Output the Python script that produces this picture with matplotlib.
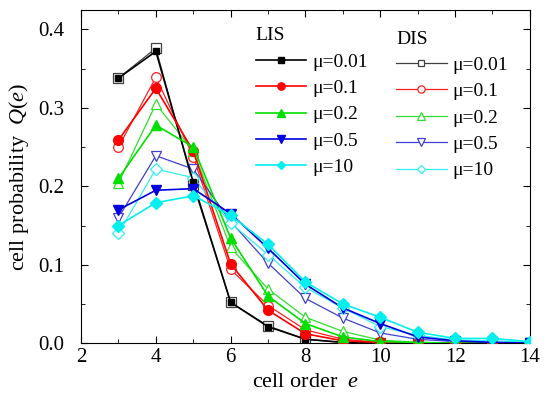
import matplotlib
matplotlib.use("Agg")
import matplotlib.pyplot as plt
from matplotlib.ticker import MultipleLocator

plt.rcParams['font.family'] = ['Liberation Serif', 'DejaVu Serif']
plt.rcParams['mathtext.fontset'] = 'custom'
plt.rcParams['mathtext.rm'] = 'Liberation Serif'
plt.rcParams['mathtext.it'] = 'Liberation Serif:italic'

order = [3, 4, 5, 6, 7, 8, 9, 10, 11, 12, 13, 14]
mu_labels = ["\u03bc=0.01", "\u03bc=0.1", "\u03bc=0.2", "\u03bc=0.5", "\u03bc=10"]

# LIS (filled markers)
lis_001 = [0.338, 0.372, 0.205, 0.052, 0.021, 0.005, 0.001, 0.0, 0.0, 0.0, 0.0, 0.0]
lis_01 = [0.259, 0.325, 0.245, 0.101, 0.042, 0.012, 0.003, 0.001, 0.0, 0.0, 0.0, 0.0]
lis_02 = [0.210, 0.278, 0.250, 0.134, 0.060, 0.025, 0.008, 0.002, 0.001, 0.0, 0.0, 0.0]
lis_05 = [0.170, 0.195, 0.197, 0.165, 0.121, 0.075, 0.045, 0.025, 0.008, 0.003, 0.001, 0.0]
lis_10 = [0.150, 0.179, 0.188, 0.163, 0.126, 0.078, 0.050, 0.033, 0.014, 0.006, 0.006, 0.002]

# DIS (open markers)
dis_001 = [0.338, 0.376, 0.202, 0.052, 0.022, 0.005, 0.001, 0.0, 0.0, 0.0, 0.0, 0.0]
dis_01 = [0.250, 0.339, 0.238, 0.094, 0.048, 0.017, 0.005, 0.001, 0.0, 0.0, 0.0, 0.0]
dis_02 = [0.204, 0.305, 0.245, 0.122, 0.069, 0.033, 0.015, 0.004, 0.001, 0.0, 0.0, 0.0]
dis_05 = [0.160, 0.239, 0.222, 0.155, 0.102, 0.057, 0.032, 0.013, 0.005, 0.002, 0.001, 0.0]
dis_10 = [0.140, 0.222, 0.211, 0.153, 0.113, 0.071, 0.045, 0.021, 0.010, 0.004, 0.003, 0.001]

lis = [lis_001, lis_01, lis_02, lis_05, lis_10]
dis = [dis_001, dis_01, dis_02, dis_05, dis_10]

lis_colors = ['black', 'red', '#00e000', '#0000e0', '#00f0f0']
dis_colors = ['#404040', '#ff2020', '#30e030', '#4040d0', '#30f0f0']
marks = ['s', 'o', '^', 'v', 'D']
lis_msize = [5, 7, 7.5, 7.5, 6]
dis_msize = [6.5, 7, 7.5, 7.5, 6]

fig = plt.figure(figsize=(5.44, 3.94), dpi=100)
ax = fig.add_axes([0.149, 0.129, 0.825, 0.846])

dis_handles = []
for i in range(len(dis)):
    ln, = ax.plot(order, dis[i], color=dis_colors[i], lw=0.9, marker=marks[i],
                  markersize=dis_msize[i], markerfacecolor='white',
                  markeredgecolor=dis_colors[i], markeredgewidth=0.9, zorder=2)
    dis_handles.append(ln)

lis_handles = []
for i in range(len(lis)):
    ln, = ax.plot(order, lis[i], color=lis_colors[i], lw=1.2, marker=marks[i],
                  markersize=lis_msize[i], markerfacecolor=lis_colors[i],
                  markeredgecolor=lis_colors[i], zorder=3)
    lis_handles.append(ln)

ax.set_xlim(2, 14)
ax.set_ylim(0, 0.425)
ax.xaxis.set_major_locator(MultipleLocator(2))
ax.xaxis.set_minor_locator(MultipleLocator(1))
ax.yaxis.set_major_locator(MultipleLocator(0.1))
ax.yaxis.set_minor_locator(MultipleLocator(0.05))
ax.yaxis.set_major_formatter(matplotlib.ticker.FormatStrFormatter('%.1f'))
ax.tick_params(which='both', direction='in', top=True, right=True, labelsize=15)
ax.tick_params(which='major', length=5)
ax.tick_params(which='minor', length=3)
ax.tick_params(axis='y', pad=12)

ax.set_xlabel("cell order  $e$", fontsize=16, labelpad=4)
ax.set_ylabel("cell probability  $Q$($e$)", fontsize=16, labelpad=5)

leg1 = ax.legend(lis_handles, mu_labels, title="LIS", loc='upper left',
                 bbox_to_anchor=(0.445, 0.965), bbox_transform=fig.transFigure,
                 frameon=False, fontsize=14, title_fontsize=14, handlelength=2.6,
                 handletextpad=0.3, labelspacing=0.45, alignment='left', markerscale=0.75,
                 borderpad=0.2)
ax.add_artist(leg1)
leg2 = ax.legend(dis_handles, mu_labels, title="DIS", loc='upper left',
                 bbox_to_anchor=(0.703, 0.957), bbox_transform=fig.transFigure,
                 frameon=False, fontsize=14, title_fontsize=14, handlelength=2.6,
                 handletextpad=0.3, labelspacing=0.45, alignment='left', markerscale=0.75,
                 borderpad=0.2)

fig.savefig("out.png", dpi=100)
